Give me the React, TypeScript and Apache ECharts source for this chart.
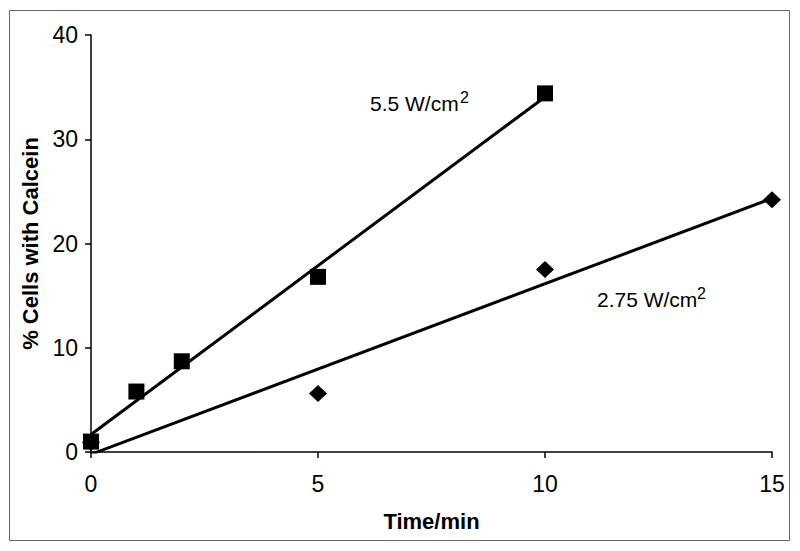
import React, { useEffect, useRef } from "react";
import * as echarts from "echarts";

// Data
const timeHigh = [0, 1, 2, 5, 10]; // 5.5 W/cm2 (squares)
const pctHigh = [1.0, 5.8, 8.7, 16.8, 34.4];
const timeLow = [0, 5, 10, 15]; // 2.75 W/cm2 (diamonds)
const pctLow = [0.9, 5.6, 17.5, 24.2];
const xTicks = [0, 5, 10, 15];
const yTicks = [0, 10, 20, 30, 40];
const labelHigh = "5.5 W/cm";
const labelLow = "2.75 W/cm";
const xTitle = "Time/min";
const yTitle = "% Cells with Calcein";

// Least-squares trend line (as in the original spreadsheet chart)
function trend(xs: number[], ys: number[]): number[][] {
  const n = xs.length;
  const mx = xs.reduce((a, b) => a + b, 0) / n;
  const my = ys.reduce((a, b) => a + b, 0) / n;
  let sxy = 0;
  let sxx = 0;
  for (let i = 0; i < n; i++) {
    sxy += (xs[i] - mx) * (ys[i] - my);
    sxx += (xs[i] - mx) * (xs[i] - mx);
  }
  const b = sxy / sxx;
  const a = my - b * mx;
  const x0 = Math.min(...xs);
  const x1 = Math.max(...xs);
  return [
    [x0, a + b * x0],
    [x1, a + b * x1],
  ];
}

const NARROW = '"Liberation Sans Narrow", "Arial Narrow", "Liberation Sans", Arial, sans-serif';
const SANS = '"Liberation Sans", Arial, Helvetica, sans-serif';

export default function App() {
  const ref = useRef<HTMLDivElement>(null);
  useEffect(() => {
    if (!ref.current) return;
    const chart = echarts.init(ref.current, undefined, { renderer: "svg" });
    const axisCommon = {
      type: "value" as const,
      axisLine: { show: true, lineStyle: { color: "#000", width: 1.5 } },
      axisTick: { show: true, inside: false, length: 6, lineStyle: { color: "#000", width: 1.5 } },
      splitLine: { show: false },
      nameLocation: "middle" as const,
      nameTextStyle: { fontFamily: SANS, fontWeight: "bold" as const, fontSize: 22, color: "#000" },
    };
    chart.setOption({
      animation: false,
      backgroundColor: "#fff",
      grid: { left: 91, right: 28, top: 35, bottom: 99, containLabel: false },
      xAxis: {
        ...axisCommon,
        min: xTicks[0],
        max: xTicks[xTicks.length - 1],
        interval: xTicks[1] - xTicks[0],
        name: xTitle,
        nameGap: 58,
        axisLabel: { fontFamily: NARROW, fontSize: 23, color: "#000", margin: 20 },
      },
      yAxis: {
        ...axisCommon,
        min: yTicks[0],
        max: yTicks[yTicks.length - 1],
        interval: yTicks[1] - yTicks[0],
        name: yTitle,
        nameGap: 50,
        axisLabel: { fontFamily: NARROW, fontSize: 23, color: "#000", margin: 13 },
      },
      series: [
        {
          type: "line",
          data: trend(timeHigh, pctHigh),
          symbol: "none",
          clip: true,
          lineStyle: { color: "#000", width: 3 },
          z: 2,
        },
        {
          type: "line",
          data: trend(timeLow, pctLow),
          symbol: "none",
          clip: true,
          lineStyle: { color: "#000", width: 3 },
          z: 2,
        },
        {
          type: "scatter",
          data: timeLow.map((t, i) => [t, pctLow[i]]),
          symbol: "diamond",
          symbolSize: [18, 17],
          itemStyle: { color: "#000", opacity: 1 },
          z: 3,
        },
        {
          type: "scatter",
          data: timeHigh.map((t, i) => [t, pctHigh[i]]),
          symbol: "rect",
          symbolSize: 16,
          itemStyle: { color: "#000", opacity: 1 },
          z: 4,
        },
      ],
      graphic: [
        {
          type: "rect",
          shape: { x: 9.5, y: 10.5, width: 780, height: 530 },
          style: { fill: "none", stroke: "#666", lineWidth: 1 },
          silent: true,
        },
        {
          type: "text",
          x: 370,
          y: 114,
          style: { text: labelHigh, fontFamily: SANS, fontSize: 21, fill: "#000", verticalAlign: "bottom" },
        },
        {
          type: "text",
          x: 460,
          y: 89,
          style: { text: "2", fontFamily: SANS, fontSize: 16, fill: "#000", verticalAlign: "top" },
        },
        {
          type: "text",
          x: 597,
          y: 310,
          style: { text: labelLow, fontFamily: SANS, fontSize: 21, fill: "#000", verticalAlign: "bottom" },
        },
        {
          type: "text",
          x: 697,
          y: 285,
          style: { text: "2", fontFamily: SANS, fontSize: 16, fill: "#000", verticalAlign: "top" },
        },
      ],
    });
    return () => chart.dispose();
  }, []);
  return (
    <div
      ref={ref}
      style={{ position: "absolute", left: 0, top: 0, width: 800, height: 551, background: "#fff" }}
    />
  );
}
